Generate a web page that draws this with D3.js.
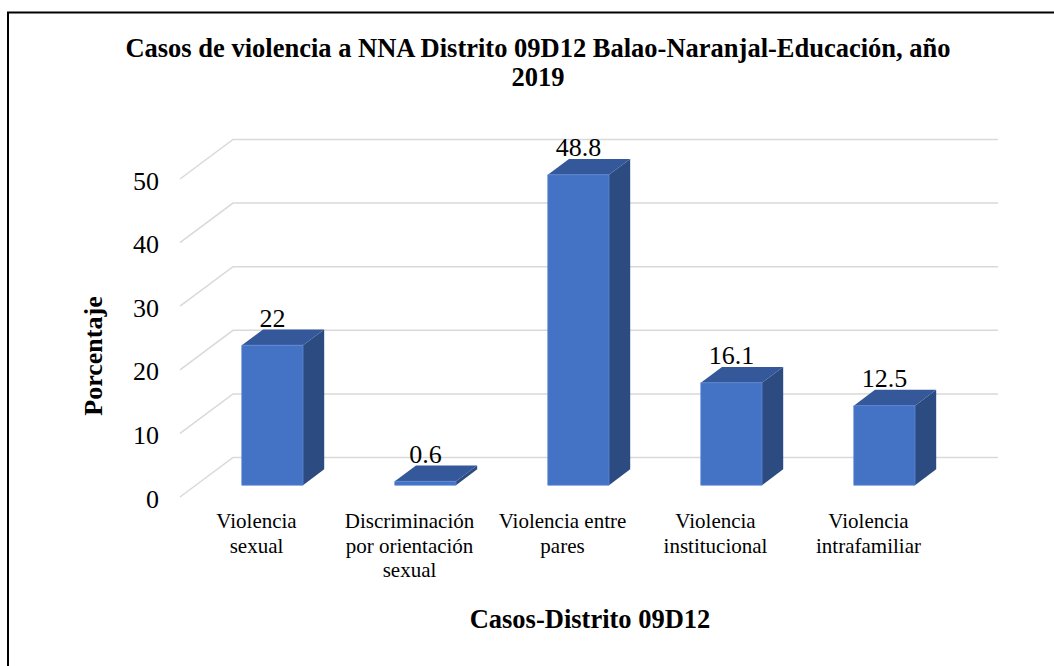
<!DOCTYPE html>
<html>
<head>
<meta charset="utf-8">
<script src="https://cdn.jsdelivr.net/npm/d3@7"></script>
<style>
  body { margin: 0; background: #fff; }
  text { font-family: "Liberation Serif", "Times New Roman", serif; fill: #000; }
</style>
</head>
<body>
<div id="chart"></div>
<script>
var categories = [
  ["Violencia", "sexual"],
  ["Discriminación", "por orientación", "sexual"],
  ["Violencia entre", "pares"],
  ["Violencia", "institucional"],
  ["Violencia", "intrafamiliar"]
];
var values = [22, 0.6, 48.8, 16.1, 12.5];
var yTicks = [0, 10, 20, 30, 40, 50];
var titleLines = ["Casos de violencia a NNA Distrito 09D12 Balao-Naranjal-Educación, año", "2019"];

var W = 1054, H = 666;
var depth = { dx: 53, dy: -39.5 },
    f0 = 0.3, f1 = 0.7;

var svg = d3.select("#chart").append("svg")
  .attr("width", W).attr("height", H)
  .attr("font-family", "Liberation Serif, Times New Roman, serif");

// frame, only the top and left edges show in the picture
svg.append("rect")
  .attr("x", 8).attr("y", 12.5)
  .attr("width", W + 20).attr("height", H + 20)
  .attr("fill", "none").attr("stroke", "#000").attr("stroke-width", 2);

var idx = categories.map(function(d, i) { return i; });

var x = d3.scaleBand()
  .domain(idx)
  .range([180, 945])
  .paddingInner(0.6)
  .paddingOuter(0.3);

var y = d3.scaleLinear().domain([0, 50]).range([497, 179]);

function pt(px, v, f) {
  return [px + depth.dx * f, y(v) + depth.dy * f];
}

function poly(pts) {
  return pts.map(function(p) { return p.join(","); }).join(" ");
}

// walls
var grid = svg.append("g");
yTicks.forEach(function(t) {
  grid.append("polyline")
    .attr("points", poly([pt(180, t, 0), pt(180, t, 1), pt(945, t, 1)]))
    .attr("fill", "none")
    .attr("stroke", "#d9d9d9")
    .attr("stroke-width", 1.5);
});

svg.append("g").selectAll("text")
  .data(yTicks)
  .join("text")
  .attr("x", 159)
  .attr("y", function(d) { return y(d) + 1.5; })
  .attr("dy", "0.35em")
  .attr("text-anchor", "end")
  .style("font-size", "26px")
  .text(function(d) { return d; });

// bars
var bars = svg.append("g").selectAll("g")
  .data(values)
  .join("g");

bars.append("polygon")
  .attr("points", function(d, i) {
    var r = x(i) + x.bandwidth();
    return poly([pt(r, 0, f0), pt(r, 0, f1), pt(r, d, f1), pt(r, d, f0)]);
  })
  .attr("fill", "#2c4b80");

bars.append("polygon")
  .attr("points", function(d, i) {
    var l = x(i), r = x(i) + x.bandwidth();
    return poly([pt(l, d, f0), pt(r, d, f0), pt(r, d, f1), pt(l, d, f1)]);
  })
  .attr("fill", "#34589a");

bars.append("polygon")
  .attr("points", function(d, i) {
    var l = x(i), r = x(i) + x.bandwidth();
    return poly([pt(l, 0, f0), pt(r, 0, f0), pt(r, d, f0), pt(l, d, f0)]);
  })
  .attr("fill", "#4472c4")
  .attr("stroke", "#5b86d4")
  .attr("stroke-width", 0.8);

bars.append("text")
  .attr("x", function(d, i) { return pt(x(i) + x.bandwidth() / 2, d, f0)[0]; })
  .attr("y", function(d, i) { return pt(0, d, f1)[1] - 2.5; })
  .attr("text-anchor", "middle")
  .style("font-size", "26px")
  .text(function(d) { return d; });

// category labels
var cat = svg.append("g").selectAll("text")
  .data(categories)
  .join("text")
  .attr("text-anchor", "middle")
  .style("font-size", "21px")
  .attr("transform", function(d, i) {
    return "translate(" + (180 + x.step() * (i + 0.5)) + ",528)";
  });

cat.selectAll("tspan")
  .data(function(d) { return d; })
  .join("tspan")
  .attr("x", 0)
  .attr("y", function(d, j) { return j * 24.5; })
  .text(function(d) { return d; });

// titles
svg.append("g").selectAll("text")
  .data(titleLines)
  .join("text")
  .attr("x", 538)
  .attr("y", function(d, i) { return 57 + i * 29; })
  .attr("text-anchor", "middle")
  .style("font-size", "26.5px")
  .style("font-weight", "bold")
  .text(function(d) { return d; });

svg.append("text")
  .attr("x", 590).attr("y", 628)
  .attr("text-anchor", "middle")
  .style("font-size", "26.5px")
  .style("font-weight", "bold")
  .text("Casos-Distrito 09D12");

svg.append("text")
  .attr("transform", "translate(102,356) rotate(-90)")
  .attr("text-anchor", "middle")
  .style("font-size", "26px")
  .style("font-weight", "bold")
  .text("Porcentaje");
</script>
</body>
</html>
